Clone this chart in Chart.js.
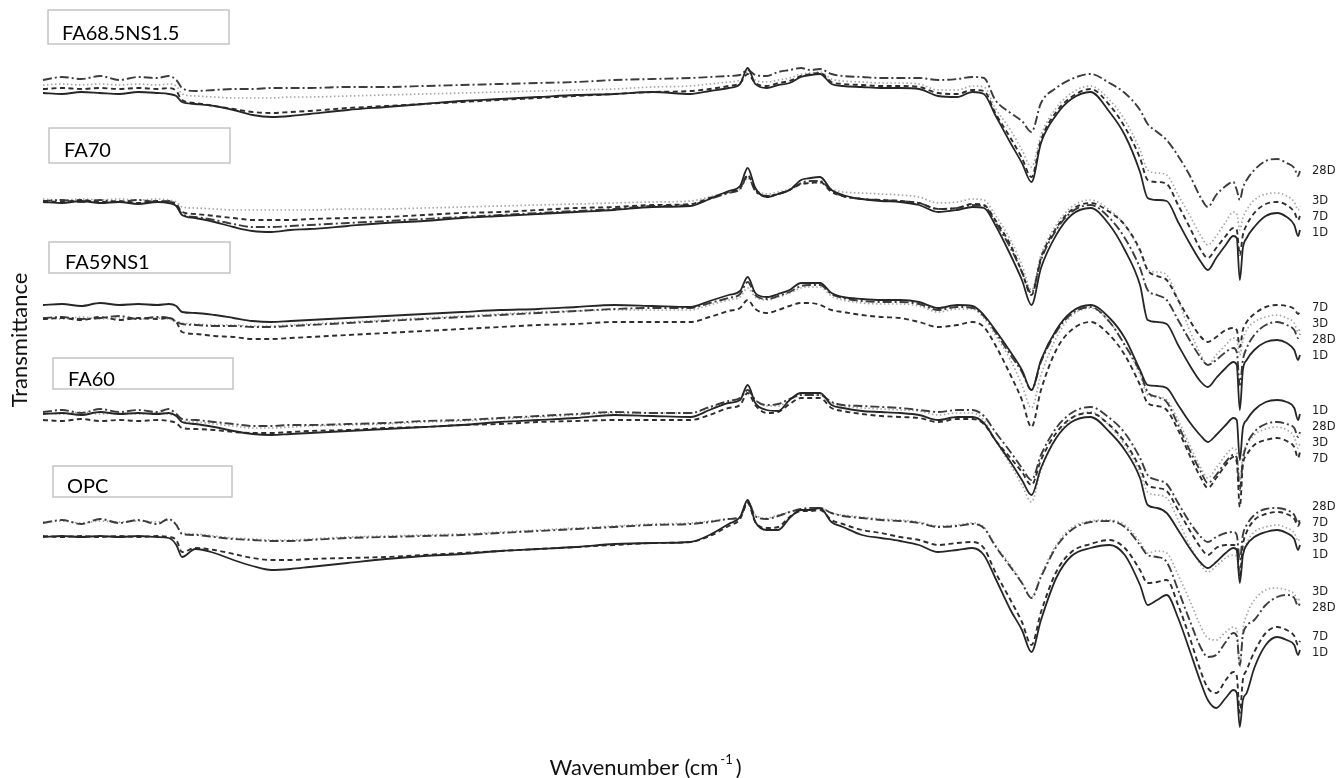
<!DOCTYPE html>
<html>
<head>
<meta charset="utf-8">
<script src="https://cdn.jsdelivr.net/npm/chart.js@4/dist/chart.umd.min.js"></script>
<style>
  html, body { margin: 0; padding: 0; background: #fff; }
  #wrap { position: relative; width: 1338px; height: 778px; }
</style>
</head>
<body>
<div id="wrap"><canvas id="c"></canvas></div>
<script>
// FTIR spectra of the five mixes at 1, 3, 7 and 28 days (stacked, arbitrary offset units)
const WAVENUMBER = [
  4000,3950,3900,3850,3800,3750,3700,3670,3650,3635,
  3600,3550,3500,3450,3400,3350,3300,3200,3100,3000,
  2900,2800,2700,2600,2500,2400,2300,2250,2200,2170,
  2150,2130,2100,2070,2040,2010,1985,1960,1930,1900,
  1850,1800,1750,1700,1650,1600,1560,1530,1500,1460,
  1430,1405,1380,1340,1300,1250,1200,1160,1120,1100,
  1075,1050,1020,990,960,942,920,895,875,866,
  858,850,840,820,790,760,735,715,705,700
];

const SAMPLES = ['FA68.5NS1.5', 'FA70', 'FA59NS1', 'FA60', 'OPC'];
const AGES = ['1D', '3D', '7D', '28D'];

// FA68.5NS1.5
const FA685_1D = [
  637,636,638,637,636,638,637,636,634,628,
  626,624,620,615,613,614,616,620,623,626,
  629,631,633,635,636,638,636,639,642,646,
  662,646,642,645,647,653,655,656,646,644,
  643,642,642,641,634,633,638,636,615,587,
  567,548,587,615,631,638,618,595,558,532,
  530,529,508,487,468,460,472,485,494,492,
  450,482,492,503,514,517,513,505,494,500
];
const FA685_3D = [
  645,646,645,646,645,646,645,646,644,636,
  634,633,632,632,632,633,633,634,635,636,
  637,638,639,640,641,643,644,646,648,650,
  658,650,648,650,652,656,657,658,651,649,
  648,647,647,646,640,640,644,643,622,600,
  580,563,595,622,637,644,630,610,580,560,
  557,555,535,515,494,485,494,508,518,516,
  500,512,520,530,536,537,534,528,520,524
];
const FA685_7D = [
  641,642,641,642,641,642,641,642,639,630,
  627,624,621,618,617,618,619,622,624,626,
  628,630,632,634,636,638,639,641,644,647,
  656,647,644,647,649,654,656,657,648,646,
  645,644,644,643,637,636,640,639,617,592,
  572,553,590,618,633,641,625,603,572,550,
  548,546,525,503,480,472,482,494,502,500,
  475,495,505,517,526,528,525,518,510,514
];
const FA685_28D = [
  650,653,651,654,650,653,652,654,650,642,
  639,640,641,641,642,642,642,643,643,644,
  645,646,647,648,650,651,652,653,654,655,
  660,655,654,658,660,662,660,661,656,654,
  653,652,652,652,650,651,653,652,630,617,
  609,598,627,642,651,656,647,637,620,606,
  598,590,574,555,532,523,535,544,548,540,
  530,542,550,560,569,571,567,562,554,559
];

// FA70
const FA70_1D = [
  528,527,529,527,528,526,528,527,524,515,
  512,508,503,499,498,500,501,504,507,509,
  512,514,516,518,520,523,524,531,539,544,
  562,542,533,536,540,550,552,553,540,535,
  531,529,528,525,518,520,523,522,505,475,
  450,425,462,495,515,522,505,480,445,410,
  408,406,385,365,348,343,352,362,368,365,
  320,360,370,380,388,390,387,380,370,375
];
const FA70_3D = [
  531,530,531,530,531,530,531,530,528,523,
  522,521,520,520,520,520,520,521,521,522,
  523,524,525,526,527,528,529,533,538,541,
  552,541,536,538,541,546,547,547,541,538,
  537,536,535,533,527,528,531,530,515,490,
  465,440,475,505,523,530,520,505,478,460,
  458,455,430,400,375,365,375,385,392,390,
  375,390,400,408,413,415,412,407,398,402
];
const FA70_7D = [
  529,528,530,528,529,527,529,528,526,518,
  516,514,512,510,510,510,511,512,513,515,
  517,518,520,522,523,525,526,532,538,542,
  555,540,534,536,540,546,547,548,538,534,
  531,530,529,527,521,522,526,525,510,485,
  458,435,472,502,520,527,518,505,480,460,
  454,450,430,410,393,388,393,400,402,400,
  383,400,408,416,423,425,424,421,416,419
];
const FA70_28D = [
  529,530,528,530,528,530,528,529,525,516,
  513,510,506,503,503,504,505,507,509,511,
  513,515,517,519,521,524,525,531,537,541,
  554,539,534,536,540,547,549,549,539,534,
  531,530,529,527,521,522,525,524,508,482,
  458,437,470,500,518,525,512,492,462,440,
  435,430,410,390,372,365,370,378,382,378,
  345,370,382,395,405,408,405,400,392,396
];

// FA59NS1
const FA59_1D = [
  425,426,424,427,425,426,425,426,424,418,
  417,415,412,409,408,409,410,412,414,416,
  418,420,421,423,425,424,423,429,435,439,
  453,437,433,436,440,447,447,447,437,433,
  431,430,430,428,422,425,424,415,400,378,
  360,340,370,400,418,425,412,392,360,345,
  344,342,325,308,294,288,295,305,312,310,
  270,302,310,320,328,330,328,322,310,316
];
const FA59_3D = [
  412,411,413,411,412,411,412,411,409,407,
  406,405,405,404,404,405,406,408,410,412,
  414,416,418,419,420,420,420,425,430,433,
  442,433,430,433,437,442,443,443,434,430,
  427,426,426,424,418,421,421,412,395,370,
  345,322,355,392,414,422,408,385,355,335,
  333,330,310,285,262,252,262,275,282,278,
  250,275,285,295,301,303,300,293,282,287
];
const FA59_7D = [
  411,412,410,413,410,412,411,412,408,398,
  396,394,393,391,391,392,393,395,397,399,
  401,403,405,406,408,408,408,413,419,422,
  430,421,417,420,424,427,427,425,420,418,
  415,413,412,408,403,405,408,403,385,355,
  330,303,340,380,400,408,395,375,345,327,
  324,320,300,275,252,242,252,265,273,268,
  223,265,275,285,290,292,289,283,272,278
];
const FA59_28D = [
  412,413,411,412,414,411,413,412,408,406,
  405,404,404,403,403,404,405,407,409,411,
  413,415,417,419,421,422,422,427,432,436,
  448,435,431,434,438,444,445,445,436,432,
  429,428,428,426,420,423,422,414,398,375,
  358,340,368,398,416,423,408,385,358,338,
  333,328,305,280,258,247,255,268,275,272,
  240,270,285,298,306,308,306,302,293,298
];

// FA60
const FA60_1D = [
  316,317,315,318,316,317,316,317,314,308,
  306,303,299,296,295,296,297,299,301,303,
  305,308,310,312,315,314,313,320,327,330,
  345,327,320,319,330,337,337,337,325,322,
  319,318,317,315,310,313,313,307,290,268,
  250,235,262,292,308,313,298,280,252,225,
  222,217,200,182,167,162,168,177,182,180,
  147,175,185,193,198,200,197,191,180,185
];
const FA60_3D = [
  317,316,318,316,317,316,317,316,314,309,
  308,306,304,302,302,303,304,305,306,308,
  309,311,313,315,317,317,317,322,328,331,
  340,330,324,324,330,335,335,335,327,324,
  322,321,320,319,315,317,317,310,290,265,
  245,228,260,292,311,318,304,285,258,238,
  235,232,210,185,165,158,164,172,175,173,
  155,175,187,198,203,205,202,197,189,193
];
const FA60_7D = [
  310,309,311,309,310,309,310,309,307,302,
  301,300,298,297,297,298,299,300,302,303,
  305,306,308,309,310,310,310,315,322,325,
  337,325,317,318,326,332,332,332,322,319,
  316,314,313,312,308,311,311,306,290,272,
  258,245,270,297,312,317,305,288,262,245,
  242,239,220,200,182,175,182,185,185,182,
  155,185,198,210,216,218,216,211,204,208
];
const FA60_28D = [
  318,320,317,321,318,320,318,321,316,311,
  310,308,306,304,304,305,305,306,307,309,
  310,312,314,316,318,317,317,323,329,332,
  340,330,325,326,331,335,335,335,328,325,
  324,323,322,320,318,320,320,314,298,278,
  262,250,275,302,317,323,312,297,272,255,
  250,246,227,208,193,188,193,197,198,195,
  170,195,205,215,221,222,220,215,207,211
];

// OPC
const OPC_1D = [
  193,194,193,194,193,194,193,192,185,173,
  181,177,170,164,160,161,163,167,171,174,
  176,179,181,183,186,187,188,195,206,213,
  230,208,200,200,212,220,220,222,208,203,
  195,192,189,185,178,180,182,175,152,120,
  100,78,110,152,174,182,185,175,145,125,
  130,135,112,80,47,30,22,32,40,37,
  3,30,37,62,85,93,90,85,75,80
];
const OPC_3D = [
  208,209,207,209,208,209,208,210,206,197,
  196,194,192,191,190,190,191,193,194,195,
  196,198,200,202,204,206,207,209,211,213,
  230,215,212,215,218,220,221,222,217,215,
  213,211,210,208,204,205,207,203,185,165,
  148,133,155,185,202,209,210,205,188,177,
  179,177,155,130,103,92,90,98,103,100,
  63,100,115,130,140,142,140,136,129,133
];
const OPC_7D = [
  194,193,194,193,194,193,194,193,190,178,
  182,180,176,172,170,170,171,172,173,175,
  177,179,181,183,185,187,188,194,204,211,
  227,208,202,203,213,219,219,220,210,206,
  200,197,193,190,185,187,188,182,158,130,
  108,85,118,158,178,186,190,182,160,147,
  148,150,125,93,58,42,37,50,58,54,
  17,50,60,78,97,103,100,94,85,89
];
const OPC_28D = [
  207,210,206,211,207,210,206,211,205,196,
  195,193,191,190,189,189,190,192,193,194,
  195,197,199,201,203,205,206,208,211,213,
  228,214,211,214,218,221,222,222,217,214,
  212,210,209,207,203,204,206,202,184,163,
  147,132,153,183,200,208,209,203,185,175,
  173,168,140,110,82,73,75,88,97,94,
  65,95,104,110,125,133,135,132,124,127
];

const SPECTRA = {
  'FA68.5NS1.5': { '1D': FA685_1D, '3D': FA685_3D, '7D': FA685_7D, '28D': FA685_28D },
  'FA70':        { '1D': FA70_1D,  '3D': FA70_3D,  '7D': FA70_7D,  '28D': FA70_28D },
  'FA59NS1':     { '1D': FA59_1D,  '3D': FA59_3D,  '7D': FA59_7D,  '28D': FA59_28D },
  'FA60':        { '1D': FA60_1D,  '3D': FA60_3D,  '7D': FA60_7D,  '28D': FA60_28D },
  'OPC':         { '1D': OPC_1D,   '3D': OPC_3D,   '7D': OPC_7D,   '28D': OPC_28D }
};

// line look per curing age
const AGE_STYLE = {
  '1D':  { color: '#262626', dash: [],            width: 1.8, order: 0 },
  '7D':  { color: '#2e2e2e', dash: [5, 3.5],      width: 1.9, order: 1 },
  '28D': { color: '#3c3c3c', dash: [9, 3, 2, 3],  width: 1.9, order: 2 },
  '3D':  { color: '#a6a6a6', dash: [1.5, 2.5],    width: 1.7, order: 3 }
};

// sample tag boxes (canvas px) and their text origin
const TAG_LAYOUT = [
  { box: [48, 10, 181, 34],  text: [62, 40] },
  { box: [49, 128, 181, 35], text: [64, 157] },
  { box: [49, 242, 181, 31], text: [65, 269] },
  { box: [53, 358, 180, 31], text: [68, 386] },
  { box: [53, 466, 179, 31], text: [67, 493] }
];

const datasets = [];
SAMPLES.forEach(sample => {
  AGES.forEach(age => {
    const st = AGE_STYLE[age];
    datasets.push({
      label: sample + ' ' + age,
      sample, age,
      data: WAVENUMBER.map((w, i) => ({ x: w, y: SPECTRA[sample][age][i] })),
      borderColor: st.color,
      borderDash: st.dash,
      borderWidth: st.width,
      pointRadius: 0,
      fill: false,
      cubicInterpolationMode: 'monotone',
      order: st.order,
      clip: false
    });
  });
});

const decorations = {
  id: 'decorations',
  afterDatasetsDraw(chart) {
    const { ctx, chartArea, scales } = chart;
    ctx.save();

    // age labels at the right end of each group, spread apart so they do not collide
    SAMPLES.forEach(sample => {
      const items = AGES.map(age => {
        const arr = SPECTRA[sample][age];
        return { age, y: scales.y.getPixelForValue(arr[arr.length - 1]) };
      }).sort((a, b) => a.y - b.y);
      const gap = 16;
      for (let it = 0; it < 80; it++) {
        for (let k = 0; k < items.length - 1; k++) {
          const d = items[k + 1].y - items[k].y;
          if (d < gap) {
            const p = (gap - d) / 2;
            items[k].y -= p;
            items[k + 1].y += p;
          }
        }
      }
      ctx.font = '11.5px "DejaVu Sans", sans-serif';
      ctx.fillStyle = '#222';
      ctx.textBaseline = 'middle';
      ctx.textAlign = 'left';
      items.forEach(it => {
        ctx.fillText(it.age, chartArea.right + 12, it.y);
      });
    });

    // sample tags
    SAMPLES.forEach((sample, i) => {
      const t = TAG_LAYOUT[i];
      ctx.fillStyle = '#fff';
      ctx.fillRect(t.box[0], t.box[1], t.box[2], t.box[3]);
      ctx.strokeStyle = '#c4c4c4';
      ctx.lineWidth = 1.5;
      ctx.setLineDash([]);
      ctx.strokeRect(t.box[0], t.box[1], t.box[2], t.box[3]);
      ctx.fillStyle = '#000';
      ctx.font = '20px Lato, "Open Sans", sans-serif';
      ctx.textBaseline = 'alphabetic';
      ctx.textAlign = 'left';
      ctx.fillText(sample, t.text[0], t.text[1]);
    });

    // axis titles
    ctx.fillStyle = '#111';
    ctx.font = '22px Lato, "Open Sans", sans-serif';
    ctx.textAlign = 'center';
    ctx.textBaseline = 'middle';
    ctx.save();
    ctx.translate(20, 340);
    ctx.rotate(-Math.PI / 2);
    ctx.fillText('Transmittance', 0, 0);
    ctx.restore();

    const main = 'Wavenumber (cm';
    const sup = '-1';
    const tail = ')';
    ctx.textAlign = 'left';
    ctx.textBaseline = 'alphabetic';
    ctx.font = '22px Lato, "Open Sans", sans-serif';
    const wMain = ctx.measureText(main).width;
    const wTail = ctx.measureText(tail).width;
    ctx.font = '13px Lato, "Open Sans", sans-serif';
    const wSup = ctx.measureText(sup).width;
    const total = wMain + 2 + wSup + 3 + wTail;
    const cx = (chartArea.left + chartArea.right) / 2 - 26;
    let x = cx - total / 2;
    const base = 775;
    ctx.font = '22px Lato, "Open Sans", sans-serif';
    ctx.fillText(main, x, base);
    x += wMain + 2;
    ctx.font = '13px Lato, "Open Sans", sans-serif';
    ctx.fillText(sup, x, base - 11);
    x += wSup + 3;
    ctx.font = '22px Lato, "Open Sans", sans-serif';
    ctx.fillText(tail, x, base);

    ctx.restore();
  }
};

new Chart(document.getElementById('c'), {
  type: 'line',
  data: { datasets },
  options: {
    responsive: true,
    maintainAspectRatio: false,
    devicePixelRatio: 1,
    animation: false,
    layout: { padding: { left: 43, right: 38, top: 30, bottom: 48 } },
    plugins: { legend: { display: false }, tooltip: { enabled: false } },
    scales: {
      x: { type: 'linear', reverse: true, min: 700, max: 4000, display: false },
      y: { type: 'linear', min: 0, max: 700, display: false }
    }
  },
  plugins: [decorations]
});
</script>
</body>
</html>
